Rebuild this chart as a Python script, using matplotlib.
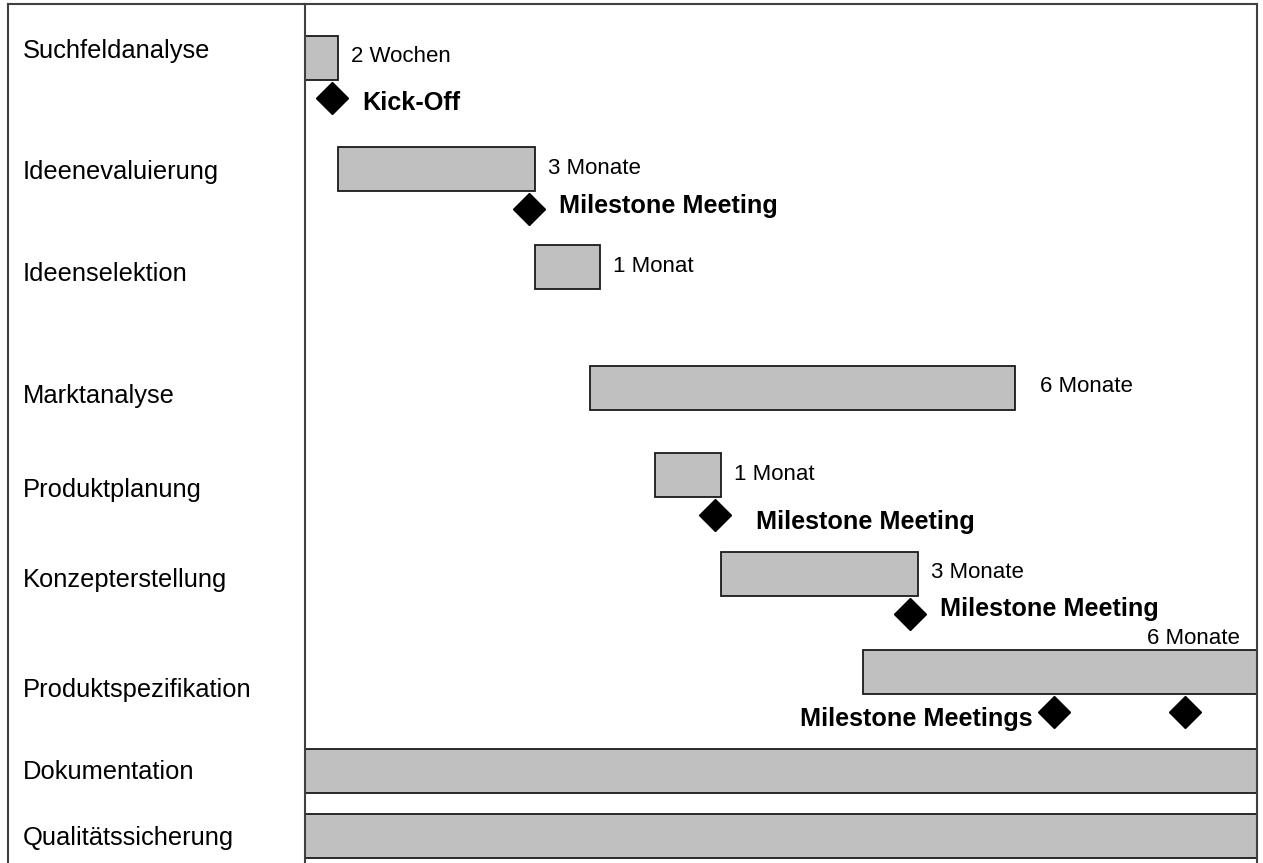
import matplotlib.pyplot as plt

plt.rcParams['font.family'] = ['Liberation Sans', 'DejaVu Sans']

# Phases of the project (months from project start)
tasks = ["Suchfeldanalyse", "Ideenevaluierung", "Ideenselektion", "Marktanalyse",
         "Produktplanung", "Konzepterstellung", "Produktspezifikation",
         "Dokumentation", "Qualitätssicherung"]
start_months = [0.0, 0.5, 3.5, 4.34, 5.33, 6.33, 8.5, 0.0, 0.0]
dur_months = [0.5, 3.0, 1.0, 6.47, 1.0, 3.0, 6.0, 14.5, 14.5]
dur_labels = ["2 Wochen", "3 Monate", "1 Monat", "6 Monate",
              "1 Monat", "3 Monate", "6 Monate", "", ""]

# Milestones: month and the task row they belong to
ms_months = [0.41, 3.41, 6.24, 9.21, 11.41, 13.41]
ms_rows = [0, 1, 4, 5, 6, 6]
ms_labels = ["Kick-Off", "Milestone Meeting", "Milestone Meeting",
             "Milestone Meeting", "Milestone Meetings", ""]

# layout (pixel rows, top = 0)
W, H = 1263, 863
row_y = [58, 169, 267, 388, 475, 574, 672, 771, 836]
label_y = [51, 172, 274, 396, 490, 580, 690, 772, 838]
bar_h = 44
ms_dy = 40
total_months = 14.5

fig = plt.figure(figsize=(W / 100, H / 100), dpi=100)
left_px, split_px, right_px, top_px = 8, 305, 1257, 4

# chart panel
ax = fig.add_axes([split_px / W, 0, (right_px - split_px) / W, 1 - top_px / H])
ax.patch.set_visible(False)
ax.set_xlim(0, total_months)
ax.set_ylim(H, top_px)
ax.set_xticks([])
ax.set_yticks([])
ax.spines['bottom'].set_visible(False)
ax.spines['left'].set_visible(False)
for s in ['top', 'right']:
    ax.spines[s].set_color('#404040')
    ax.spines[s].set_linewidth(1.5)

# task name panel
lab = fig.add_axes([left_px / W, 0, (split_px - left_px) / W, 1 - top_px / H])
lab.patch.set_visible(False)
lab.set_xticks([])
lab.set_yticks([])
lab.spines['bottom'].set_visible(False)
for s in ['top', 'left', 'right']:
    lab.spines[s].set_color('#404040')
    lab.spines[s].set_linewidth(1.5)
for name, y in zip(tasks, label_y):
    fig.text(23 / W, 1 - y / H, name, fontsize=18.4, ha='left', va='center')

ax.barh(row_y, dur_months, left=start_months, height=bar_h,
        color='#c0c0c0', edgecolor='#1a1a1a', linewidth=1.3, clip_on=True)

for i, txt in enumerate(dur_labels):
    if not txt:
        continue
    end = start_months[i] + dur_months[i]
    if end >= total_months:
        ax.annotate(txt, (total_months, row_y[i] - bar_h / 2), xytext=(-17, 12),
                    textcoords='offset pixels', fontsize=16, ha='right', va='center')
    else:
        dx = 25 if i == 3 else 13
        ax.annotate(txt, (end, row_y[i]), xytext=(dx, 1),
                    textcoords='offset pixels', fontsize=16, ha='left', va='center')

ms_y = [row_y[r] + ms_dy for r in ms_rows]
ax.plot(ms_months, ms_y, linestyle='none', marker='D', markersize=16.5,
        color='black', clip_on=False)

for i, txt in enumerate(ms_labels):
    if not txt:
        continue
    if txt.endswith('s'):
        ax.annotate(txt, (ms_months[i], ms_y[i]), xytext=(-22, -7),
                    textcoords='offset pixels', fontsize=18.2, fontweight='bold',
                    ha='right', va='center')
    else:
        dx = 41 if i == 2 else 30
        dy = {0: -5, 1: 3, 2: -7, 3: 5}[i]
        ax.annotate(txt, (ms_months[i], ms_y[i]), xytext=(dx, dy),
                    textcoords='offset pixels', fontsize=18.2, fontweight='bold',
                    ha='left', va='center')

fig.savefig('out.png', dpi=100)
